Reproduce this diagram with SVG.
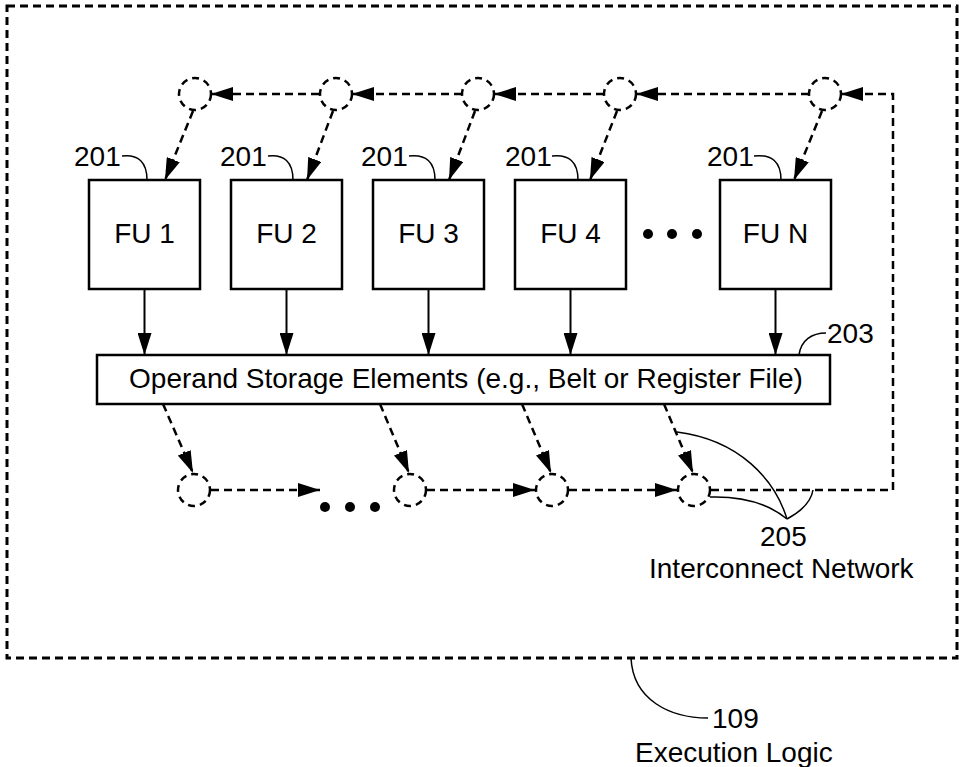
<svg xmlns="http://www.w3.org/2000/svg" width="959" height="767" viewBox="0 0 959 767">
<style>
text{font-family:"Liberation Sans",Arial,sans-serif;font-size:28px;fill:#000}
.box{fill:#fff;stroke:#000;stroke-width:2.5}
.dash{fill:none;stroke:#000;stroke-width:2.5;stroke-dasharray:8 5}
.circ{fill:none;stroke:#000;stroke-width:2.5;stroke-dasharray:7 5}
.solid{fill:none;stroke:#000;stroke-width:2}
.lead{fill:none;stroke:#000;stroke-width:1.5}
.outer{fill:none;stroke:#000;stroke-width:3;stroke-dasharray:8 5}
</style>
<defs>
<marker id="ah" markerUnits="userSpaceOnUse" markerWidth="22" markerHeight="14" refX="22" refY="7" orient="auto">
<path d="M0,0 L22,7 L0,14 Z" fill="#000"/>
</marker>
</defs>
<g id="execution-logic">
<rect class="outer" x="7" y="6" width="950" height="652"/>
<path class="lead" d="M631,658 C633,700 670,718 708,718"/>
<text x="712" y="728">109</text>
<text x="635" y="762">Execution Logic</text>
</g>
<g id="fu1"><rect class="box" x="89" y="180" width="111" height="109"/><text x="144.5" y="243" text-anchor="middle">FU 1</text><text x="74" y="166">201</text><path class="lead" d="M122,156 C138,154 147,162 147,180"/></g>
<g id="fu2"><rect class="box" x="231" y="180" width="111" height="109"/><text x="286.5" y="243" text-anchor="middle">FU 2</text><text x="220" y="166">201</text><path class="lead" d="M268,156 C284,154 293,162 293,180"/></g>
<g id="fu3"><rect class="box" x="373" y="180" width="111" height="109"/><text x="428.5" y="243" text-anchor="middle">FU 3</text><text x="361" y="166">201</text><path class="lead" d="M409,156 C426,154 435,162 435,180"/></g>
<g id="fu4"><rect class="box" x="515" y="180" width="111" height="109"/><text x="570.5" y="243" text-anchor="middle">FU 4</text><text x="505" y="166">201</text><path class="lead" d="M552,156 C569,154 578,162 578,180"/></g>
<g id="fun"><rect class="box" x="720" y="180" width="111" height="109"/><text x="775.5" y="243" text-anchor="middle">FU N</text><text x="707" y="166">201</text><path class="lead" d="M754,156 C772,154 781,162 781,180"/></g>
<g id="fu-ellipsis"><circle cx="648" cy="234" r="5"/><circle cx="672" cy="234" r="5"/><circle cx="697" cy="234" r="5"/></g>
<g id="storage">
<rect class="box" x="97" y="355" width="733" height="49"/>
<text x="466" y="388" text-anchor="middle">Operand Storage Elements (e.g., Belt or Register File)</text>
<path class="lead" d="M799,355 C801,340 812,333 826,333"/>
<text x="827" y="343">203</text>
</g>
<g id="top-nodes">
<circle class="circ" cx="195" cy="94" r="16"/>
<circle class="circ" cx="336" cy="94" r="16"/>
<circle class="circ" cx="478" cy="94" r="16"/>
<circle class="circ" cx="620" cy="94" r="16"/>
<circle class="circ" cx="825" cy="94" r="16"/>
</g>
<g id="bottom-nodes">
<circle class="circ" cx="194" cy="490" r="16"/>
<circle class="circ" cx="410" cy="490" r="16"/>
<circle class="circ" cx="552" cy="490" r="16"/>
<circle class="circ" cx="694" cy="490" r="16"/>
<circle cx="325" cy="507" r="5"/><circle cx="350" cy="507" r="5"/><circle cx="375" cy="507" r="5"/>
</g>
<g id="interconnect-label">
<path class="lead" d="M677,432 C740,440 775,480 787,519"/>
<path class="lead" d="M710,497 C745,496 770,505 787,519"/>
<path class="lead" d="M813,490 C811,503 800,512 787,519"/>
<text x="760" y="546">205</text>
<text x="649" y="578">Interconnect Network</text>
</g>
<g id="connectors">
<path class="dash" d="M319,94 L211,94" marker-end="url(#ah)"/>
<path class="dash" d="M462,94 L352,94" marker-end="url(#ah)"/>
<path class="dash" d="M604,94 L494,94" marker-end="url(#ah)"/>
<path class="dash" d="M809,94 L636,94" marker-end="url(#ah)"/>
<path class="dash" d="M711,490 L893,490 L893,94 L841,94" marker-end="url(#ah)"/>
<path class="dash" d="M193,111 L165,180" marker-end="url(#ah)"/>
<path class="dash" d="M333,111 L307,180" marker-end="url(#ah)"/>
<path class="dash" d="M475,111 L449,180" marker-end="url(#ah)"/>
<path class="dash" d="M617,111 L590,180" marker-end="url(#ah)"/>
<path class="dash" d="M822,111 L794,180" marker-end="url(#ah)"/>
<path class="solid" d="M144.5,289 L144.5,355" marker-end="url(#ah)"/>
<path class="solid" d="M286.5,289 L286.5,355" marker-end="url(#ah)"/>
<path class="solid" d="M428.5,289 L428.5,355" marker-end="url(#ah)"/>
<path class="solid" d="M570.5,289 L570.5,355" marker-end="url(#ah)"/>
<path class="solid" d="M775.5,289 L775.5,355" marker-end="url(#ah)"/>
<path class="dash" d="M163,404 L193,473" marker-end="url(#ah)"/>
<path class="dash" d="M380,404 L409,473" marker-end="url(#ah)"/>
<path class="dash" d="M522,404 L551,473" marker-end="url(#ah)"/>
<path class="dash" d="M664,404 L693,473" marker-end="url(#ah)"/>
<path class="dash" d="M211,490 L320,490" marker-end="url(#ah)"/>
<path class="dash" d="M427,490 L535,490" marker-end="url(#ah)"/>
<path class="dash" d="M569,490 L677,490" marker-end="url(#ah)"/>
</g>
</svg>
